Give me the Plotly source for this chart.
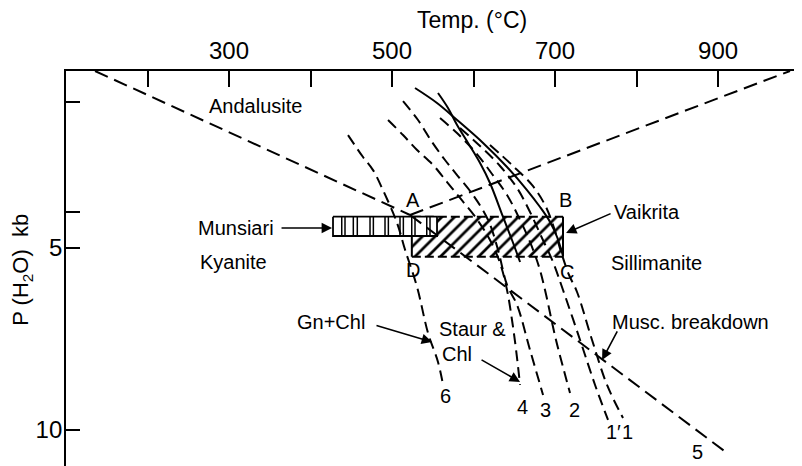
import plotly.graph_objects as go

# ---------------- data (T in °C, P in kb) ----------------
x_ticks = [200, 300, 400, 500, 600, 700, 800, 900, 1000]
x_ticklabels = ["", "300", "", "500", "", "700", "", "900", ""]
y_ticks = [1, 4, 5, 10]
y_ticklabels = ["", "", "5", "10"]

# Al2SiO5 phase boundaries
and_ky_T = [135.6, 522.1]
and_ky_P = [0.137, 4.093]
ky_sil_T = [522.1, 911.0]          # curve 5
ky_sil_P = [4.093, 10.632]
and_sil_T = [522.1, 988.3]
and_sil_P = [4.093, 0.137]

# dashed reaction curves
c6_T = [446.0, 464.4, 476.7, 487.7, 506.1, 516.0, 530.7, 544.2, 556.4, 562.6]
c6_P = [1.90, 2.50, 2.86, 3.35, 4.31, 5.05, 6.07, 7.34, 8.13, 8.76]
c4_T = [495.1, 513.5, 530.7, 550.3, 567.5, 583.4, 603.1, 620.2, 632.5, 641.1, 647.2, 652.2, 657.1]
c4_P = [1.484, 1.896, 2.308, 2.720, 3.187, 3.626, 4.176, 4.780, 5.412, 6.154, 6.978, 7.802, 8.764]
c3_T = [513.5, 531.9, 549.1, 565.0, 579.8, 599.4, 617.9, 630.1, 641.1, 653.4, 669.3, 685.3]
c3_P = [0.962, 1.484, 2.088, 2.582, 2.995, 3.544, 4.231, 5.055, 6.016, 6.566, 7.802, 9.038]
c2_T = [558.9, 581.0, 603.1, 622.7, 641.1, 657.1, 669.3, 680.4, 687.7, 701.2, 718.4]
c2_P = [1.429, 1.869, 2.390, 2.967, 3.544, 4.231, 4.835, 5.522, 6.154, 7.527, 8.984]
c1p_T = [583.4, 608.0, 632.5, 653.4, 669.3, 684.0, 697.5, 709.8, 730.7, 749.1, 765.0]
c1p_P = [1.703, 2.198, 2.747, 3.352, 4.011, 4.725, 5.385, 6.154, 7.527, 8.764, 9.725]
c1_T = [620.2, 647.2, 671.7, 687.7, 698.8, 707.4, 717.2, 727.0, 745.4, 763.8, 783.4]
c1_P = [2.170, 2.720, 3.269, 3.819, 4.451, 5.110, 5.742, 6.209, 7.527, 8.764, 9.670]

# solid curves
s_out_T = [528.2, 555.2, 579.8, 611.7, 641.1, 665.6, 681.6, 693.9, 702.5, 709.8]
s_out_P = [0.604, 1.016, 1.484, 2.115, 2.775, 3.407, 3.874, 4.286, 4.698, 5.220]
s_in_T = [556.4, 568.7, 579.8, 593.3, 608.0, 620.2, 636.2, 647.2, 657.1]
s_in_P = [0.742, 1.154, 1.621, 2.115, 2.665, 3.214, 4.148, 4.780, 5.385]

# P-T boxes
vaik_T = [524.3, 709.8]
vaik_P = [4.14, 5.24]
muns_T = [427.6, 555.2]
muns_P = [4.14, 4.67]
muns_div_T = [438.3, 442.3, 452.5, 457.4, 473.0, 477.1, 491.4, 495.5,
              509.8, 513.9, 524.2, 528.2, 542.6, 546.6]

FONT = "Liberation Sans"
fig = go.Figure()

# Vaikrita hatched box
fig.add_trace(go.Scatter(
    x=[vaik_T[0], vaik_T[1], vaik_T[1], vaik_T[0], vaik_T[0]],
    y=[vaik_P[0], vaik_P[0], vaik_P[1], vaik_P[1], vaik_P[0]],
    mode="none", fill="toself", fillcolor="white",
    fillpattern=dict(shape="/", size=9, solidity=0.3, fgcolor="black", bgcolor="white",
                     fgopacity=1, fillmode="replace"),
    showlegend=False, hoverinfo="skip"))
for pv in vaik_P:
    fig.add_trace(go.Scatter(x=vaik_T, y=[pv, pv], mode="lines",
                             line=dict(color="black", width=2, dash="9px,4px"),
                             showlegend=False, hoverinfo="skip"))
for tv in vaik_T:
    fig.add_trace(go.Scatter(x=[tv, tv], y=vaik_P, mode="lines",
                             line=dict(color="black", width=2),
                             showlegend=False, hoverinfo="skip"))

# Munsiari box
fig.add_trace(go.Scatter(
    x=[muns_T[0], muns_T[1], muns_T[1], muns_T[0], muns_T[0]],
    y=[muns_P[0], muns_P[0], muns_P[1], muns_P[1], muns_P[0]],
    mode="lines", fill="toself", fillcolor="white",
    line=dict(color="black", width=1.8), showlegend=False, hoverinfo="skip"))
dx, dy = [], []
for tv in muns_div_T:
    dx += [tv, tv, None]
    dy += [muns_P[0], muns_P[1], None]
fig.add_trace(go.Scatter(x=dx, y=dy, mode="lines", line=dict(color="black", width=1.5),
                         showlegend=False, hoverinfo="skip"))

# long dashed boundaries
for tx, py in [(and_ky_T, and_ky_P), (ky_sil_T, ky_sil_P), (and_sil_T, and_sil_P)]:
    fig.add_trace(go.Scatter(x=tx, y=py, mode="lines",
                             line=dict(color="black", width=2, dash="14px,7px"),
                             showlegend=False, hoverinfo="skip"))

# dashed curves
for tx, py in [(c6_T, c6_P), (c4_T, c4_P), (c3_T, c3_P), (c2_T, c2_P),
               (c1p_T, c1p_P), (c1_T, c1_P)]:
    fig.add_trace(go.Scatter(x=tx, y=py, mode="lines",
                             line=dict(color="black", width=2, dash="11px,6px", shape="spline"),
                             showlegend=False, hoverinfo="skip"))

# solid curves
for tx, py in [(s_out_T, s_out_P), (s_in_T, s_in_P)]:
    fig.add_trace(go.Scatter(x=tx, y=py, mode="lines",
                             line=dict(color="black", width=2, shape="spline"),
                             showlegend=False, hoverinfo="skip"))

annotations = []
def label(text, T, P, size=20):
    annotations.append(dict(x=T, y=P, xref="x", yref="y", text=text, showarrow=False,
                            font=dict(family=FONT, size=size, color="black"),
                            xanchor="center", yanchor="middle"))

def arrow(T_tip, P_tip, T_tail, P_tail):
    annotations.append(dict(x=T_tip, y=P_tip, ax=T_tail, ay=P_tail, xref="x", yref="y",
                            axref="x", ayref="y", text="", showarrow=True,
                            arrowhead=2, arrowsize=1.3, arrowwidth=1.6, arrowcolor="black"))

label("Andalusite", 331.9, 1.099)
label("Munsiari", 308.6, 4.45)
label("Kyanite", 306.1, 5.385)
label("Vaikrita", 812.9, 4.011)
label("Sillimanite", 824.0, 5.412)
label("A", 525.8, 3.681)
label("B", 712.3, 3.681)
label("C", 714.7, 5.659)
label("D", 525.8, 5.604)
label("Gn+Chl", 425.2, 7.033)
label("Staur &", 598.2, 7.225)
label("Chl", 579.8, 7.912)
label("6", 565.0, 9.066)
label("4", 659.5, 9.368)
label("3", 687.7, 9.451)
label("2", 723.3, 9.451)
label("1′", 771.2, 10.055)
label("1", 788.3, 10.055)
label("5", 874.2, 10.60)
label("Musc. breakdown", 865.6, 7.033)

arrow(426.4, 4.45, 362.6, 4.45)
arrow(713.5, 4.588, 770.0, 4.038)
arrow(549.1, 7.582, 479.1, 7.115)
arrow(657.1, 8.681, 608.0, 8.049)
arrow(757.7, 8.077, 777.3, 7.253)

# axis titles
annotations.append(dict(x=598, y=1, xref="x", yref="paper", yshift=51,
                        text="Temp. (°C)", showarrow=False,
                        font=dict(family=FONT, size=23, color="black"),
                        xanchor="center", yanchor="middle"))
annotations.append(dict(x=0, y=5.6, xref="paper", yref="y", xshift=-44,
                        text="P (H<sub>2</sub>O)  kb", showarrow=False, textangle=-90,
                        font=dict(family=FONT, size=22, color="black"),
                        xanchor="center", yanchor="middle"))

# the page body adds an 8px offset; size the figure to fill the window exactly
fig.update_layout(
    width=794, height=458,
    margin=dict(l=58, r=0, t=63, b=0, autoexpand=False),
    paper_bgcolor="white", plot_bgcolor="white",
    showlegend=False,
    annotations=annotations,
    xaxis=dict(range=[100, 1003], side="top", showline=True, linecolor="black", linewidth=2,
               ticks="inside", ticklen=16, tickwidth=1.5, tickcolor="black", automargin=False,
               tickvals=x_ticks, ticktext=x_ticklabels, showgrid=False, zeroline=False,
               tickfont=dict(family=FONT, size=24, color="black"), ticklabelstandoff=0),
    yaxis=dict(range=[10.99, 0.137], showline=True, linecolor="black", linewidth=1.8,
               ticks="inside", ticklen=14, tickwidth=1.5, tickcolor="black", automargin=False,
               tickvals=y_ticks, ticktext=y_ticklabels, showgrid=False, zeroline=False,
               tickfont=dict(family=FONT, size=24, color="black"), ticklabelstandoff=-3),
)

fig.write_html("out.html")
